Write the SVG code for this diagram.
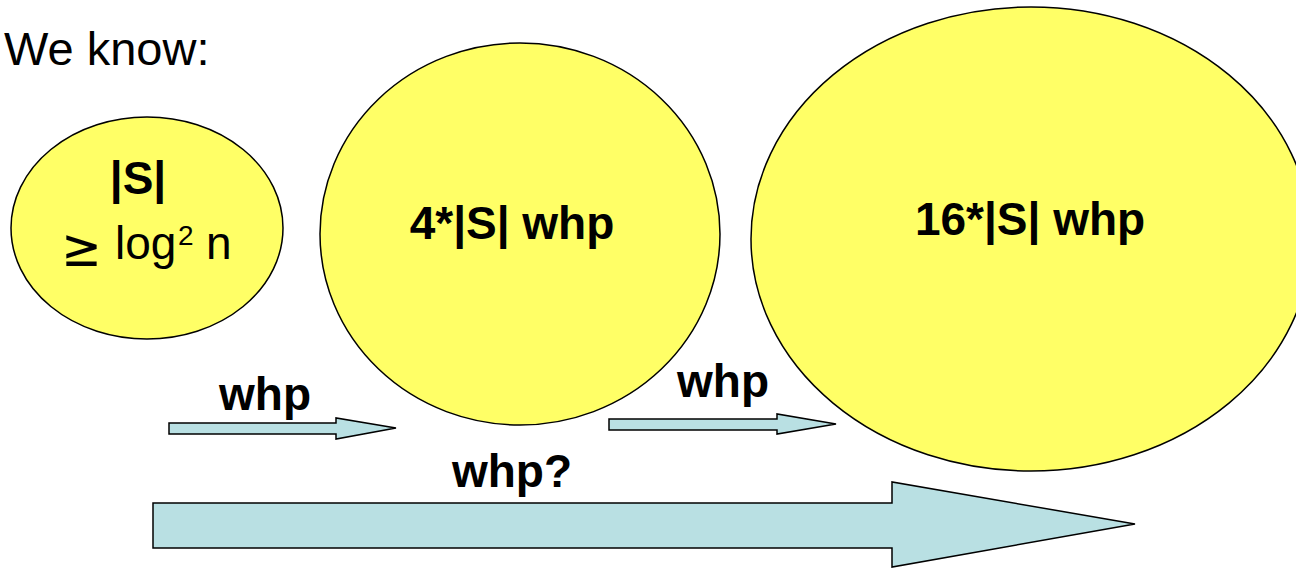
<svg xmlns="http://www.w3.org/2000/svg" width="1296" height="568" viewBox="0 0 1296 568">
<style>
.bub{fill:#FFFF66;stroke:#000;stroke-width:1.5}
.arr{fill:#B9E0E3;stroke:#000;stroke-width:1.5;stroke-linejoin:miter}
.t{font-family:"Liberation Sans",Arial,sans-serif;fill:#000}
.b{font-weight:bold;font-size:46px}
</style>
<rect width="1296" height="568" fill="#fff"/>
<text class="t" x="4" y="65" font-size="47">We know:</text>
<g id="node-s">
<ellipse class="bub" cx="147" cy="228" rx="136" ry="111"/>
<text class="t b" x="138" y="194" text-anchor="middle">|S|</text>
<text transform="translate(61,266) scale(1.1,1.2)" font-family="DejaVu Sans, sans-serif" font-size="44" fill="#000">≥</text>
<text class="t" y="259" font-size="46"><tspan x="115" y="259">log</tspan><tspan x="178" y="245" font-size="28">2</tspan><tspan x="206" y="259">n</tspan></text>
</g>
<g id="node-4s">
<ellipse class="bub" cx="520" cy="234" rx="200" ry="191"/>
<text class="t b" x="512" y="239" text-anchor="middle">4*|S| whp</text>
</g>
<g id="node-16s">
<ellipse class="bub" cx="1031" cy="239" rx="280" ry="232"/>
<text class="t b" x="1030" y="235" text-anchor="middle">16*|S| whp</text>
</g>
<g id="connectors">
<polygon class="arr" points="169,423 336,423 336,418 396,428 336,439 336,434 169,434"/>
<polygon class="arr" points="609,419 777,419 777,414 836,424 777,434 777,430 609,430"/>
<polygon class="arr" points="153,503 892,503 892,482 1135,524 892,567 892,548 153,548"/>
<text class="t b" x="265" y="410" text-anchor="middle">whp</text>
<text class="t b" x="723" y="397" text-anchor="middle">whp</text>
<text class="t b" x="512" y="487" text-anchor="middle">whp?</text>
</g>
</svg>
